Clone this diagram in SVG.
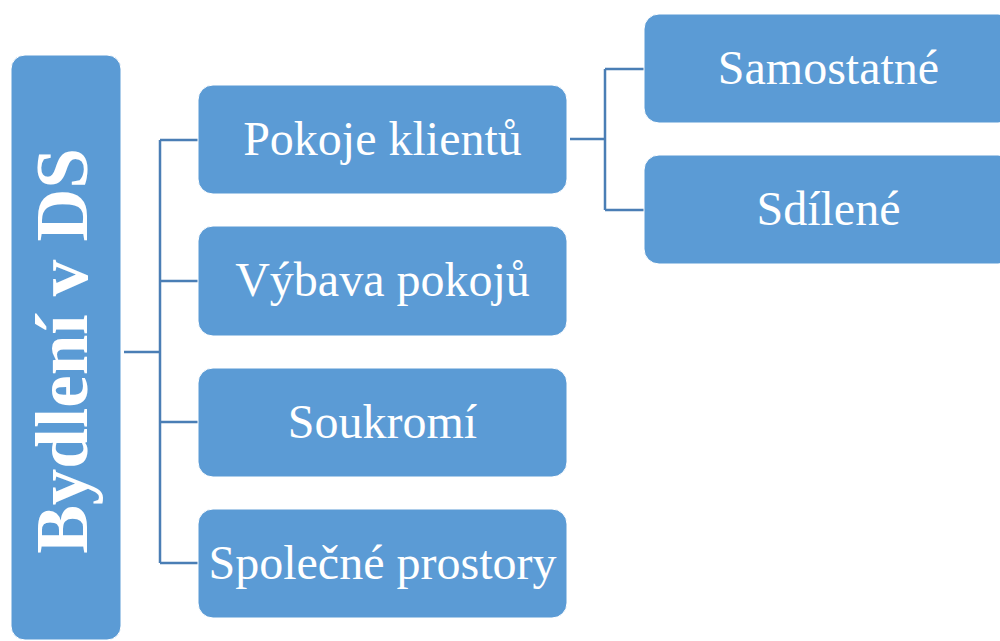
<svg xmlns="http://www.w3.org/2000/svg" width="1000" height="641" viewBox="0 0 1000 641">
<style>
.box{fill:#5B9BD5;stroke:#ffffff;stroke-width:1}
.t{font-family:"Liberation Serif","Times New Roman",serif;font-size:48px;fill:#ffffff;text-anchor:middle}
.root{font-family:"Liberation Serif","Times New Roman",serif;font-size:73px;font-weight:bold;fill:#ffffff;text-anchor:middle}
.c{fill:none;stroke:#4A7EB5;stroke-width:2.5}
</style>
<rect width="1000" height="641" fill="#ffffff"/>
<g id="connectors">
<path class="c" d="M124 352 H160 M160 140 V563 M160 140 H198 M160 281 H198 M160 422 H198 M160 563 H198"/>
<path class="c" d="M570 139 H605 M605 69 V210 M605 69 H644 M605 210 H644"/>
</g>
<g id="root">
<rect class="box" x="11" y="55" width="110" height="585" rx="14"/>
<text class="root" transform="translate(87 351) rotate(-90)" x="0" y="0">Bydlení v DS</text>
</g>
<g id="pokoje">
<rect class="box" x="198" y="85" width="369" height="109" rx="15"/>
<text class="t" x="382.5" y="155">Pokoje klientů</text>
</g>
<g id="vybava">
<rect class="box" x="198" y="226" width="369" height="110" rx="15"/>
<text class="t" x="382.5" y="296">Výbava pokojů</text>
</g>
<g id="soukromi">
<rect class="box" x="198" y="368" width="369" height="109" rx="15"/>
<text class="t" x="382.5" y="438">Soukromí</text>
</g>
<g id="spolecne">
<rect class="box" x="198" y="509" width="369" height="109" rx="15"/>
<text class="t" x="382.5" y="579">Společné prostory</text>
</g>
<g id="samostatne">
<rect class="box" x="644" y="14" width="369" height="109" rx="15"/>
<text class="t" x="828.5" y="84">Samostatné</text>
</g>
<g id="sdilene">
<rect class="box" x="644" y="155" width="369" height="109" rx="15"/>
<text class="t" x="828.5" y="225">Sdílené</text>
</g>
</svg>
